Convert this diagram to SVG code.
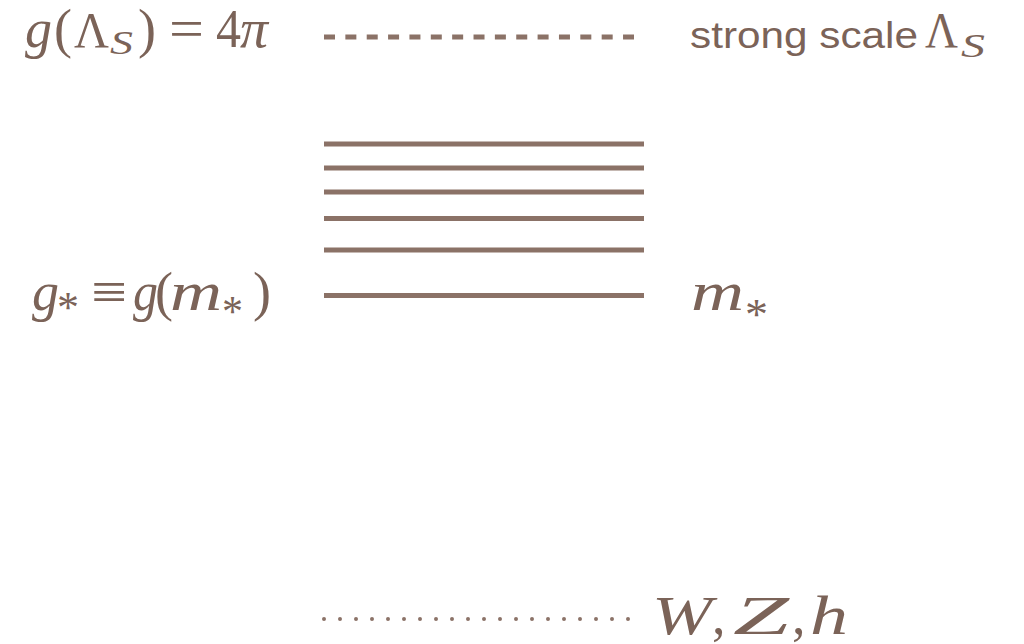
<svg xmlns="http://www.w3.org/2000/svg" width="1024" height="644" viewBox="0 0 1024 644">
<style>
.m{font-family:"Liberation Serif","DejaVu Serif",serif;font-size:54px;fill:#7b6358}
.i{font-style:italic}
.u{font-style:normal}
.sub{font-size:33px}
.ast{font-size:44px;font-style:normal}
.s{font-family:"Liberation Sans","DejaVu Sans",sans-serif;font-size:37px;fill:#7b6358}
.lvl{stroke:#8b7267;stroke-width:5;fill:none}
</style>
<rect width="1024" height="644" fill="#ffffff"/>
<g id="connectors">
<line class="lvl" x1="324" y1="37" x2="634" y2="37" stroke-dasharray="11 10.36"/>
<line class="lvl" x1="324" y1="144" x2="644" y2="144"/>
<line class="lvl" x1="324" y1="168" x2="644" y2="168"/>
<line class="lvl" x1="324" y1="192" x2="644" y2="192"/>
<line class="lvl" x1="324" y1="218.5" x2="644" y2="218.5"/>
<line class="lvl" x1="324" y1="250" x2="644" y2="250"/>
<line class="lvl" x1="324" y1="295.5" x2="644" y2="295.5"/>
<line x1="324" y1="619" x2="630" y2="619" stroke="#8b7267" stroke-width="4" stroke-linecap="round" stroke-dasharray="0 16"/>
</g>
<g id="label-strong-left">
<text class="m"><tspan class="i" x="25" y="47" textLength="27" lengthAdjust="spacingAndGlyphs">g</tspan><tspan x="54" y="47">(</tspan><tspan x="74" y="47" font-size="50" textLength="35" lengthAdjust="spacingAndGlyphs">Λ</tspan><tspan class="i sub" x="110" y="54" textLength="23" lengthAdjust="spacingAndGlyphs">S</tspan><tspan x="138" y="47">)</tspan><tspan x="169" y="47" textLength="35" lengthAdjust="spacingAndGlyphs">=</tspan><tspan x="216" y="47" textLength="25" lengthAdjust="spacingAndGlyphs">4</tspan><tspan class="i" x="240" y="47" textLength="28" lengthAdjust="spacingAndGlyphs">π</tspan></text>
</g>
<g id="label-strong-right">
<text class="s" x="690" y="48" textLength="228" lengthAdjust="spacingAndGlyphs">strong scale</text>
<text class="m"><tspan x="925" y="47" font-size="50" textLength="33" lengthAdjust="spacingAndGlyphs">Λ</tspan><tspan class="i sub" x="961" y="57" textLength="24" lengthAdjust="spacingAndGlyphs">S</tspan></text>
</g>
<g id="label-mstar-left">
<text class="m"><tspan class="i" x="32" y="310" textLength="27" lengthAdjust="spacingAndGlyphs">g</tspan><tspan class="ast" x="57" y="322" textLength="22" lengthAdjust="spacingAndGlyphs">*</tspan><tspan x="91" y="310" textLength="36" lengthAdjust="spacingAndGlyphs">≡</tspan><tspan class="i" x="133" y="310" textLength="25" lengthAdjust="spacingAndGlyphs">g</tspan><tspan x="155" y="310">(</tspan><tspan class="i" x="170" y="310" textLength="52" lengthAdjust="spacingAndGlyphs">m</tspan><tspan class="ast" x="222" y="326" textLength="21" lengthAdjust="spacingAndGlyphs">*</tspan><tspan x="253" y="310">)</tspan></text>
</g>
<g id="label-mstar-right">
<text class="m"><tspan class="i" x="691" y="310" textLength="53" lengthAdjust="spacingAndGlyphs">m</tspan><tspan class="ast" x="745" y="329" textLength="23" lengthAdjust="spacingAndGlyphs">*</tspan></text>
</g>
<g id="label-wzh">
<text class="m" font-size="60"><tspan class="i" x="652" y="634" textLength="60" lengthAdjust="spacingAndGlyphs">W</tspan><tspan x="712" y="634">,</tspan><tspan class="i" x="733" y="634" textLength="56" lengthAdjust="spacingAndGlyphs">Z</tspan><tspan x="792" y="634">,</tspan><tspan class="i" x="810" y="634" textLength="38" lengthAdjust="spacingAndGlyphs">h</tspan></text>
</g>
</svg>
